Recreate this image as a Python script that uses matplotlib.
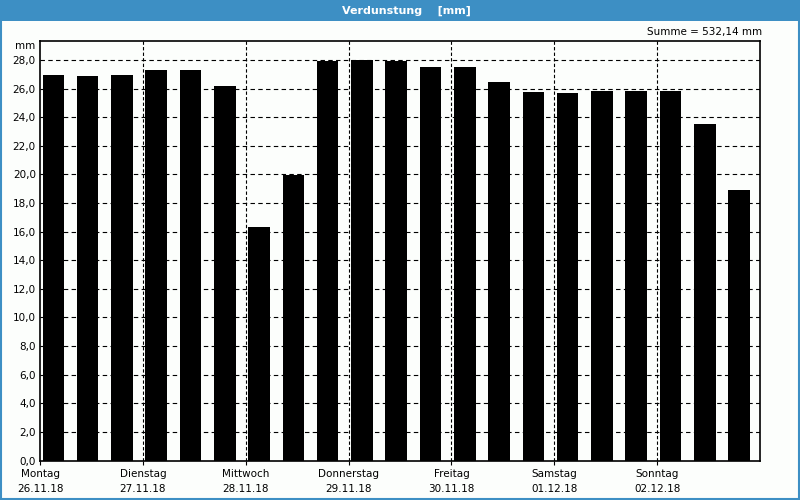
import numpy as np
import matplotlib.pyplot as plt
from matplotlib.patches import Rectangle

# Verdunstung per 8h slot (3 per day)
werte = [26.92, 26.85, 26.92, 27.27, 27.33, 26.15, 16.29, 19.94, 27.96, 28.03, 27.96,
         27.54, 27.54, 26.43, 25.73, 25.66, 25.80, 25.80, 25.80, 23.50, 18.89]
tage = ['Montag', 'Dienstag', 'Mittwoch', 'Donnerstag', 'Freitag', 'Samstag', 'Sonntag']
daten = ['26.11.18', '27.11.18', '28.11.18', '29.11.18', '30.11.18', '01.12.18', '02.12.18']
summe_text = 'Summe = 532,14 mm'

blau = '#3d8fc4'
bg = '#fcfefc'
plt.rcParams['font.family'] = ['DejaVu Sans']
plt.rcParams['font.size'] = 7.5

fig = plt.figure(figsize=(8, 5), dpi=100, facecolor=bg)
ax = fig.add_axes([40/800, 1 - 460.5/500, 720/800, 420/500])
ax.set_facecolor(bg)

# title bar and window border
fig.patches.append(Rectangle((0, 1 - 21/500), 1, 21/500, transform=fig.transFigure,
                             facecolor=blau, edgecolor='none', zorder=0))
fig.patches.append(Rectangle((0.5/800, 1.5/500), 798/800, 1 - 2/500, transform=fig.transFigure,
                             facecolor='none', edgecolor=blau, lw=1.5, zorder=0))
fig.text(0.508, 1 - 10.5/500, 'Verdunstung    [mm]', color='white', fontweight='bold',
         ha='center', va='center', fontsize=8)
fig.text(762/800, 1 - 32/500, summe_text, ha='right', va='center')

n = len(werte)
x = np.arange(n)
ax.bar(x + 0.075, werte, width=0.63, align='edge', color='black', zorder=3)

ax.set_xlim(0, n)
ax.set_ylim(0, 29.36)

yt = np.arange(0, 29, 2)
ax.set_yticks(yt)
ax.set_yticklabels([f'{v:.1f}'.replace('.', ',') for v in yt])
for v in yt[1:]:
    ax.axhline(v, color='black', lw=0.8, ls=(0, (4, 3)), zorder=1)

xt = np.arange(0, n, 3)
ax.set_xticks(xt)
ax.set_xticklabels([f'{t}\n{d}' for t, d in zip(tage, daten)], linespacing=1.6)
for v in xt[1:]:
    ax.axvline(v, color='black', lw=0.8, ls=(0, (3, 2)), zorder=1)

ax.tick_params(axis='y', length=0, pad=3)
ax.tick_params(axis='x', length=3, width=0.8, pad=3)
for s in ax.spines.values():
    s.set_linewidth(1.2)

ax.text(-0.006, 0.986, 'mm', transform=ax.transAxes, ha='right', va='center')

fig.savefig('out.png', dpi=100, facecolor=bg)
